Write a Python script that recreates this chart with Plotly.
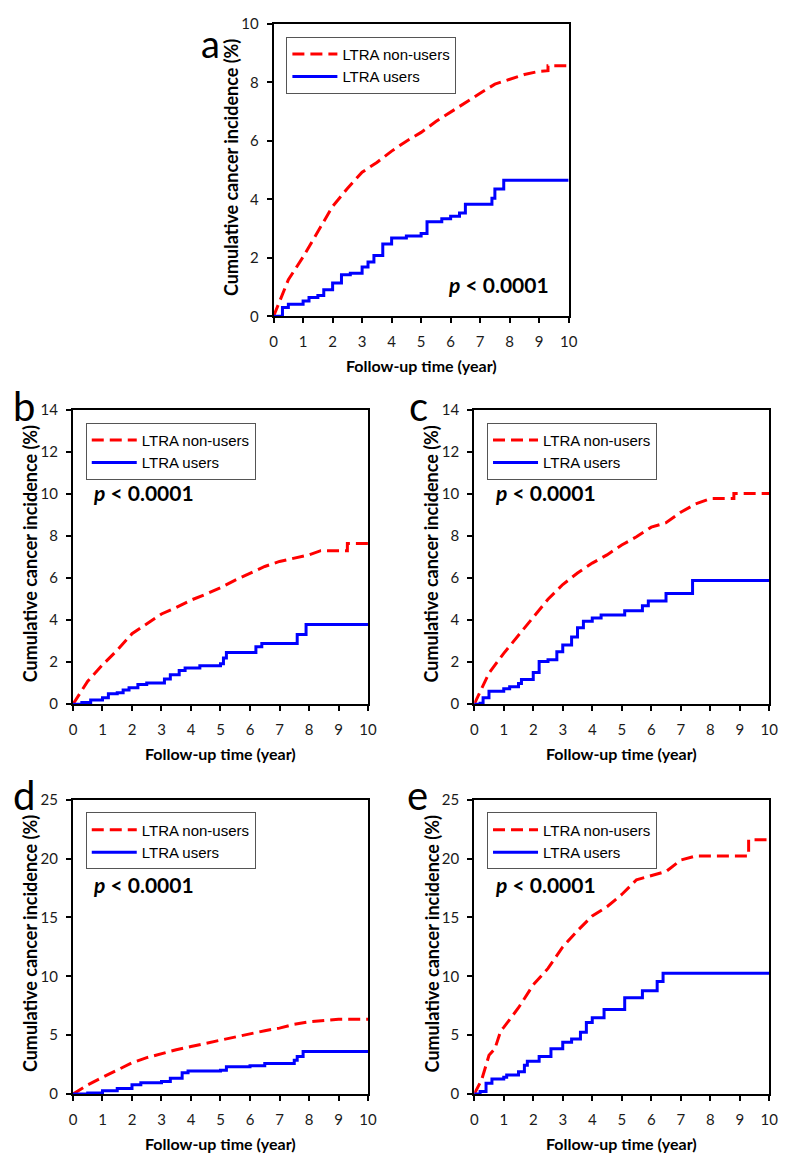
import plotly.graph_objects as go

# ---- data (time in years, cumulative incidence in %) ----
# panel a
a_non_t = [0, 0.5, 1, 1.5, 2, 2.5, 3, 3.5, 4, 4.5, 5, 5.5, 6, 6.5, 7, 7.5, 8, 8.5, 9, 9.3, 9.3, 10]
a_non_y = [0, 1.25, 2.03, 2.92, 3.76, 4.37, 4.93, 5.26, 5.65, 5.99, 6.29, 6.66, 6.99, 7.29, 7.63, 7.94, 8.10, 8.27, 8.38, 8.40, 8.57, 8.57]
a_use_t = [0, 0.3, 0.5, 1, 1.2, 1.5, 1.7, 2, 2.3, 2.6, 3, 3.2, 3.4, 3.7, 4, 4.5, 5, 5.2, 5.7, 6, 6.3, 6.5, 7.4, 7.5, 7.8, 10]
a_use_y = [0, 0.3, 0.41, 0.52, 0.64, 0.71, 0.91, 1.14, 1.42, 1.47, 1.69, 1.86, 2.08, 2.47, 2.68, 2.75, 2.83, 3.23, 3.34, 3.42, 3.53, 3.83, 4.04, 4.35, 4.65, 4.65]

# panel b
b_non_t = [0, 0.5, 1, 1.5, 2, 2.5, 3, 3.5, 4, 4.5, 5, 5.5, 6, 6.5, 7, 7.5, 8, 8.4, 9.3, 9.3, 10]
b_non_y = [0, 1.09, 1.87, 2.57, 3.35, 3.82, 4.29, 4.6, 4.95, 5.23, 5.54, 5.9, 6.24, 6.55, 6.79, 6.94, 7.1, 7.3, 7.3, 7.64, 7.64]
b_use_t = [0, 0.3, 0.6, 1, 1.2, 1.5, 1.7, 1.9, 2.2, 2.5, 3.1, 3.3, 3.6, 3.8, 4.3, 5, 5.1, 5.2, 6.2, 6.4, 7.6, 7.9, 10]
b_use_y = [0, 0.08, 0.2, 0.31, 0.5, 0.55, 0.67, 0.78, 0.94, 1.01, 1.2, 1.4, 1.6, 1.72, 1.83, 1.92, 2.2, 2.46, 2.73, 2.89, 3.32, 3.79, 3.79]

# panel c
c_non_t = [0, 0.5, 1, 1.5, 2, 2.5, 3, 3.5, 4, 4.5, 5, 5.5, 6, 6.5, 7, 7.5, 8, 8.8, 8.8, 10]
c_non_y = [0, 1.48, 2.42, 3.28, 4.13, 4.99, 5.69, 6.24, 6.71, 7.1, 7.57, 7.96, 8.42, 8.63, 9.13, 9.52, 9.78, 9.78, 10.02, 10.02]
c_use_t = [0, 0.2, 0.3, 0.5, 1, 1.2, 1.5, 1.6, 2, 2.2, 2.5, 2.8, 3, 3.3, 3.5, 3.7, 4, 4.3, 5.1, 5.7, 5.9, 6.5, 7.4, 10]
c_use_y = [0, 0.05, 0.31, 0.62, 0.73, 0.83, 0.98, 1.17, 1.51, 2.03, 2.11, 2.5, 2.81, 3.2, 3.63, 3.95, 4.1, 4.24, 4.45, 4.68, 4.91, 5.26, 5.88, 5.88]

# panel d
d_non_t = [0, 0.5, 1, 1.5, 2, 2.5, 3, 3.5, 4, 4.5, 5, 5.5, 6, 6.5, 7, 7.5, 8, 8.5, 9, 10]
d_non_y = [0, 0.78, 1.42, 2.03, 2.65, 3.09, 3.43, 3.76, 4.04, 4.32, 4.54, 4.82, 5.1, 5.38, 5.6, 5.93, 6.13, 6.27, 6.35, 6.35]
d_use_t = [0, 0.5, 1, 1.5, 2, 2.3, 3, 3.3, 3.7, 3.9, 5, 5.2, 6, 6.5, 7.5, 7.6, 7.8, 10]
d_use_y = [0, 0.08, 0.28, 0.47, 0.78, 0.97, 1.06, 1.34, 1.81, 1.95, 2.03, 2.31, 2.4, 2.59, 2.87, 3.2, 3.62, 3.62]

# panel e
e_non_t = [0, 0.25, 0.5, 0.7, 0.9, 1, 1.5, 2, 2.5, 3, 3.5, 4, 4.5, 5, 5.5, 6, 6.5, 7, 7.5, 9.3, 9.3, 10]
e_non_y = [0, 1.2, 3.29, 3.85, 5.38, 5.66, 7.33, 9.28, 10.67, 12.49, 13.88, 15.13, 15.91, 16.95, 18.2, 18.53, 18.9, 19.87, 20.21, 20.21, 21.6, 21.6]
e_use_t = [0, 0.2, 0.4, 0.6, 1, 1.1, 1.5, 1.7, 1.8, 2.2, 2.6, 3, 3.3, 3.6, 3.8, 4, 4.4, 5.1, 5.7, 6.2, 6.4, 10]
e_use_y = [0, 0.22, 0.92, 1.28, 1.42, 1.62, 1.9, 2.45, 2.79, 3.2, 3.85, 4.4, 4.68, 5.24, 6.08, 6.49, 7.19, 8.17, 8.78, 9.56, 10.26, 10.26]

panel_letters = ["a", "b", "c", "d", "e"]
y_max = [10, 14, 14, 25, 25]
y_step = [2, 2, 2, 5, 5]
series = [
    (a_non_t, a_non_y, a_use_t, a_use_y),
    (b_non_t, b_non_y, b_use_t, b_use_y),
    (c_non_t, c_non_y, c_use_t, c_use_y),
    (d_non_t, d_non_y, d_use_t, d_use_y),
    (e_non_t, e_non_y, e_use_t, e_use_y),
]

W, H = 787, 1161
OFF = 8  # the page body margin shifts the plot div by 8px right/down


def px_x(p):
    return (p - OFF) / W


def px_y(p):
    return 1 - (p - OFF) / H


# plot frames in page pixels: (left, right, top, bottom)
frames = [
    (274, 574, 14, 311),
    (70, 370, 406, 705),
    (478, 778, 406, 705),
    (70, 370, 802, 1101),
    (478, 778, 802, 1101),
]
# where the p-value sits inside each frame (domain fractions)
p_pos = [(0.763, 0.11), (0.24, 0.719), (0.24, 0.719), (0.24, 0.712), (0.24, 0.712)]

RED = "#ff0000"
BLUE = "#0000ff"

fig = go.Figure()
layout = {}
annotations = []

for i, (non_t, non_y, use_t, use_y) in enumerate(series):
    n = i + 1
    sx = "" if n == 1 else str(n)
    xa, ya = "x" + sx, "y" + sx
    lg = "legend" + sx

    fig.add_trace(go.Scatter(
        x=non_t, y=non_y, mode="lines", name="LTRA non-users",
        line=dict(color=RED, width=3, dash="12px,6px"),
        xaxis=xa, yaxis=ya, legend=lg,
    ))
    fig.add_trace(go.Scatter(
        x=use_t, y=use_y, mode="lines", name="LTRA users",
        line=dict(color=BLUE, width=3, shape="hv"),
        xaxis=xa, yaxis=ya, legend=lg,
    ))

    l, r, t, b = frames[i]
    common = dict(
        showgrid=False, zeroline=False,
        showline=True, linecolor="black", linewidth=2, mirror=True,
        ticks="outside", ticklen=5, tickwidth=1.5, tickcolor="black",
        tickfont=dict(family="Lato, sans-serif", size=15, color="#1a1a1a"),
        fixedrange=True,
    )
    layout["xaxis" + sx] = dict(
        common, domain=[px_x(l), px_x(r)], range=[0, 10], dtick=1, tick0=0,
        anchor=ya, ticklabelstandoff=6,
    )
    layout["yaxis" + sx] = dict(
        common, domain=[px_y(b), px_y(t)], range=[0, y_max[i]],
        dtick=y_step[i], tick0=0, anchor=xa, ticklabelstandoff=5,
    )
    layout[lg] = dict(
        x=px_x(l + 13), y=px_y(t + 13), xanchor="left", yanchor="top",
        bgcolor="white", bordercolor="#555", borderwidth=1,
        font=dict(family="Liberation Sans, Arial, sans-serif", size=15, color="black"),
        itemwidth=45, tracegroupgap=0,
    )

    # axis titles
    annotations.append(dict(
        xref=xa + " domain", yref=ya + " domain", x=-0.145, y=0.51,
        text="<b>Cumulative cancer incidence (%)</b>", textangle=-90,
        showarrow=False, font=dict(family="Lato, sans-serif", size=18, color="black"),
        xanchor="center", yanchor="middle",
    ))
    annotations.append(dict(
        xref=xa + " domain", yref=ya + " domain", x=0.5, y=-0.167,
        text="<b>Follow-up time (year)</b>",
        showarrow=False, font=dict(family="Lato, sans-serif", size=16, color="black"),
        xanchor="center", yanchor="middle",
    ))
    # p-value
    px_, py_ = p_pos[i]
    annotations.append(dict(
        xref=xa + " domain", yref=ya + " domain", x=px_, y=py_,
        text="<b><i>p</i> &lt; 0.0001</b>",
        showarrow=False, font=dict(family="Lato, sans-serif", size=21, color="black"),
        xanchor="center", yanchor="middle",
    ))

# panel letters b-e (page pixel positions of letter centres)
letter_pos = [(20, 402), (421, 402), (20, 797), (420, 797)]
for letter, (lx, ly) in zip(panel_letters[1:], letter_pos):
    annotations.append(dict(
        xref="paper", yref="paper", x=px_x(lx), y=px_y(ly),
        text=letter, showarrow=False, xanchor="center", yanchor="middle",
        font=dict(family="Lato, sans-serif", size=40, color="black"),
    ))
# "a" sits at the very top edge, keep its whole box inside the figure
annotations.append(dict(
    xref="paper", yref="paper", x=px_x(210), y=1,
    text=panel_letters[0], showarrow=False, xanchor="center", yanchor="top",
    font=dict(family="Lato, sans-serif", size=38, color="black"),
))

fig.update_layout(**layout)
fig.update_layout(
    width=W, height=H, autosize=False,
    margin=dict(l=0, r=0, t=0, b=0),
    paper_bgcolor="white", plot_bgcolor="white",
    annotations=annotations,
    showlegend=True,
    font=dict(family="Lato, sans-serif"),
)

fig.write_html("out.html")
